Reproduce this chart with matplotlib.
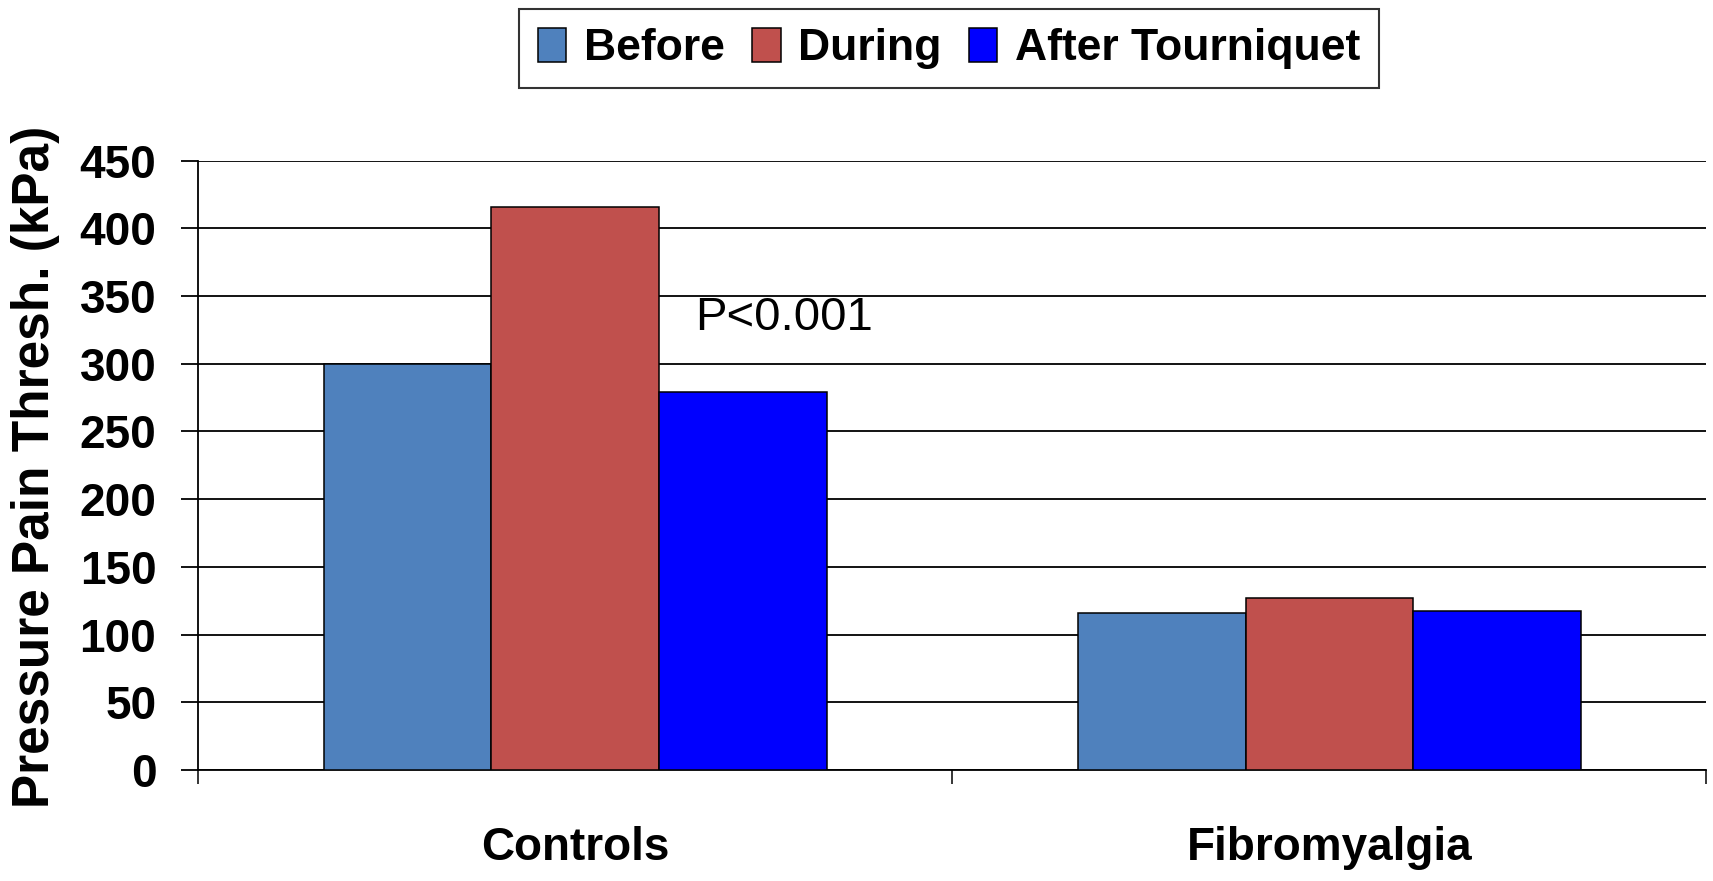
import matplotlib
matplotlib.use("Agg")
import matplotlib.pyplot as plt
import numpy as np

groups = ["Controls", "Fibromyalgia"]
series = ["Before", "During", "After Tourniquet"]
before = [300, 116]
during = [416, 127]
after = [279, 117.5]
colors = ["#4F81BD", "#C0504D", "#0000FF"]
yticks = [0, 50, 100, 150, 200, 250, 300, 350, 400, 450]

plt.rcParams['font.family'] = ['Liberation Sans', 'DejaVu Sans']

fig = plt.figure(figsize=(17.13, 8.81), dpi=100)
ax = fig.add_axes([0.1156, 0.126, 0.8806, 0.6917])

x = np.arange(len(groups))
w = 1 / 4.5
for i, (vals, lab, c) in enumerate(zip([before, during, after], series, colors)):
    ax.bar(x + (i - 1) * w, vals, width=w, color=c, edgecolor='black',
           linewidth=1.1, label=lab, zorder=3)

ax.set_xlim(-0.5, 1.5)
ax.set_ylim(0, 450)
ax.set_yticks(yticks)
ax.set_yticklabels([str(t) for t in yticks], fontsize=33, fontweight='bold')
ax.yaxis.grid(True, color='black', linewidth=1.3)
ax.set_axisbelow(True)

ax.set_xticks([-0.5, 0.5, 1.5])
ax.set_xticklabels([])
ax.tick_params(axis='x', direction='out', length=10, width=1.1)
ax.tick_params(axis='y', direction='out', length=12, width=1.3, pad=18)

for s in ['top', 'right']:
    ax.spines[s].set_visible(False)
for s in ['left', 'bottom']:
    ax.spines[s].set_linewidth(1.3)

for xi, g in zip(x, groups):
    ax.text(xi, -0.128, g, transform=ax.get_xaxis_transform(), ha='center',
            va='center', fontsize=33, fontweight='bold')

ax.text(0.159, 334, "P<0.001", fontsize=34, ha='left', va='center')

fig.text(36 / 1713, 0.47, "Pressure Pain Thresh. (kPa)", rotation=90,
         ha='center', va='center', fontsize=37, fontweight='bold')

leg = fig.legend(loc='center', bbox_to_anchor=(0.554, 0.945), ncol=3,
                 prop={'size': 32, 'weight': 'bold'}, frameon=True, fancybox=False,
                 handlelength=0.65, handleheight=0.8, handletextpad=0.4,
                 columnspacing=0.6, borderpad=0.42, borderaxespad=0)
leg.get_frame().set_edgecolor('black')
leg.get_frame().set_linewidth(1.5)

fig.savefig("out.png", dpi=100)
